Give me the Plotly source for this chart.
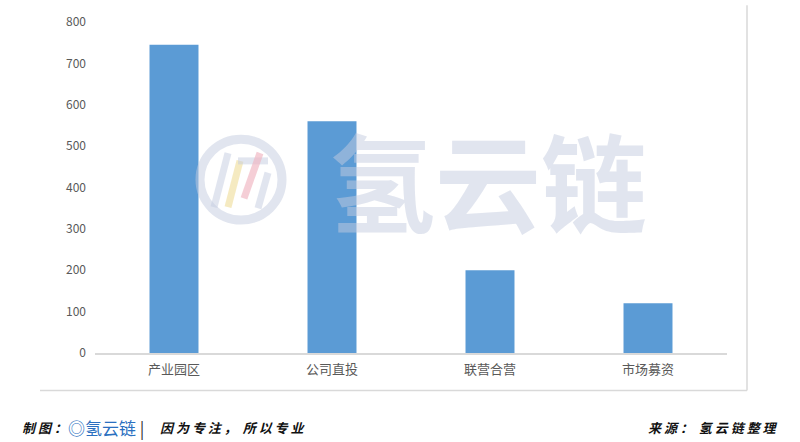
import plotly.graph_objects as go

categories = ["产业园区", "公司直投", "联营合营", "市场募资"]
values = [745, 560, 200, 120]
y_ticks = [0, 100, 200, 300, 400, 500, 600, 700, 800]

fig = go.Figure()
fig.add_trace(go.Bar(
    x=categories, y=values,
    marker=dict(color="#5b9bd5", line=dict(width=0)),
    width=0.31,
))

fig.update_layout(
    width=800, height=442,
    margin=dict(l=95, r=73, t=17, b=89),
    paper_bgcolor="white", plot_bgcolor="white",
    showlegend=False,
    font=dict(family="Noto Sans CJK SC", color="#595959", size=12),
)
fig.update_yaxes(range=[0, 800], tickvals=y_ticks, showgrid=False, zeroline=False,
                 showline=False, ticks="", tickfont=dict(size=12, color="#595959"),
                 ticklabelstandoff=8)
fig.update_xaxes(showline=True, linecolor="#d9d9d9", linewidth=1.5, ticks="",
                 tickfont=dict(size=13, color="#595959"), ticklabelstandoff=4)

PW, PH = 632, 336
def px(x):
    return (x - 95) / PW
def py(y):
    return (353 - y) / PH

# frame lines (bottom and right of the chart box)
fig.add_shape(type="line", xref="paper", yref="paper", x0=px(40), x1=px(747),
              y0=py(391), y1=py(391), line=dict(color="#d9d9d9", width=1.5))
fig.add_shape(type="line", xref="paper", yref="paper", x0=px(747), x1=px(747),
              y0=py(391), y1=py(0), line=dict(color="#d9d9d9", width=1.5))

# watermark logo
wm = "rgba(195,204,224,0.5)"
fig.add_shape(type="circle", xref="paper", yref="paper",
              x0=px(200), x1=px(282), y0=py(218), y1=py(136),
              line=dict(color=wm, width=9), layer="above")
fig.add_shape(type="line", xref="paper", yref="paper",
              x0=px(214), x1=px(228), y0=py(205), y1=py(150),
              line=dict(color=wm, width=7), layer="above")
fig.add_shape(type="line", xref="paper", yref="paper",
              x0=px(228), x1=px(240), y0=py(205), y1=py(158),
              line=dict(color="rgba(240,222,160,0.65)", width=7), layer="above")
fig.add_shape(type="line", xref="paper", yref="paper",
              x0=px(238), x1=px(268), y0=py(158), y1=py(158),
              line=dict(color=wm, width=7), layer="above")
fig.add_shape(type="line", xref="paper", yref="paper",
              x0=px(244), x1=px(260), y0=py(196), y1=py(150),
              line=dict(color="rgba(240,180,192,0.65)", width=7), layer="above")
fig.add_shape(type="line", xref="paper", yref="paper",
              x0=px(258), x1=px(268), y0=py(206), y1=py(170),
              line=dict(color=wm, width=7), layer="above")

fig.add_annotation(text="氢云链", xref="paper", yref="paper",
                   x=px(488), y=py(175), showarrow=False,
                   font=dict(family="Noto Sans CJK SC", size=106, color=wm, weight="bold"),
                   xanchor="center", yanchor="middle")

# footer
fy = py(429)
fig.add_annotation(text="<b><i>制 图 ：</i></b>", xref="paper", yref="paper",
                   x=px(20), y=fy, showarrow=False, xanchor="left", yanchor="middle",
                   font=dict(family="Noto Sans CJK SC", size=13, color="#111111"))
fig.add_annotation(text="◎氢云链<span style='color:#333'> |</span>",
                   xref="paper", yref="paper",
                   x=px(66), y=fy, showarrow=False, xanchor="left", yanchor="middle",
                   font=dict(family="Noto Sans CJK SC", size=17, color="#2a6fc0"))
fig.add_annotation(text="<b><i>因 为 专 注 ，  所 以 专 业</i></b>", xref="paper", yref="paper",
                   x=px(158), y=fy, showarrow=False, xanchor="left", yanchor="middle",
                   font=dict(family="Noto Sans CJK SC", size=13, color="#111111"))
fig.add_annotation(text="<b><i>来 源 ：  氢 云 链 整 理</i></b>", xref="paper", yref="paper",
                   x=px(780), y=fy, showarrow=False, xanchor="right", yanchor="middle",
                   font=dict(family="Noto Sans CJK SC", size=13, color="#111111"))

fig.write_html("out.html", config={"displayModeBar": False},
               post_script="document.body.style.margin='0';document.body.style.overflow='hidden';")
